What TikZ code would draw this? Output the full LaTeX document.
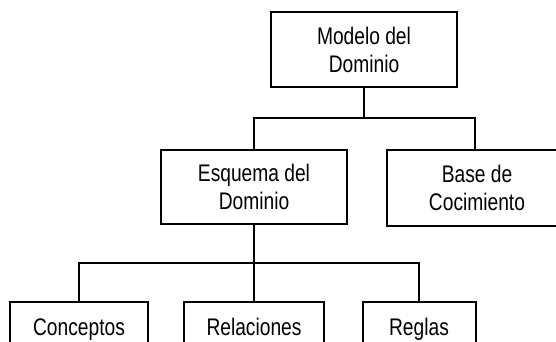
\documentclass[tikz,border=0pt]{standalone}
\usepackage{fontspec}
\setmainfont[FakeStretch=0.8]{Liberation Sans}
\begin{document}
\begin{tikzpicture}[x=1pt,y=-1pt,line width=2pt,
  box/.style={draw,rectangle,align=center,inner sep=0pt,font=\fontsize{24}{28}\selectfont},
  low/.style={draw,rectangle,anchor=north,inner xsep=0pt,inner ysep=0pt,text height=33pt,text depth=42pt,font=\fontsize{24}{28}\selectfont},
  conn/.style={draw,line width=2pt}]
\useasboundingbox (0,0) rectangle (556,342);
\clip (0,0) rectangle (556,342);
\node[box,minimum width=186pt,minimum height=75pt] (top) at (364,49.5) {Modelo del\\Dominio};
\node[box,minimum width=186pt,minimum height=74pt] (esq) at (254,187) {Esquema del\\Dominio};
\node[box,minimum width=180pt,minimum height=76pt] (base) at (477,187.5) {Base de\\Cocimiento};
\node[low,minimum width=138pt] (con) at (79,301) {Conceptos};
\node[low,minimum width=140pt] (rel) at (254,301) {Relaciones};
\node[low,minimum width=113pt] (reg) at (419,301) {Reglas};
\coordinate (b1) at (364,118);
\coordinate (b2) at (254,263);
\coordinate (bt) at (475,118);
\path[conn] (top.south) -- (b1);
\path[conn] (esq.north) |- (bt) -- (bt |- base.north);
\path[conn] (esq.south) -- (b2);
\path[conn] (con.north) |- (b2) -| (reg.north);
\path[conn] (rel.north) -- (b2);
\end{tikzpicture}
\end{document}
